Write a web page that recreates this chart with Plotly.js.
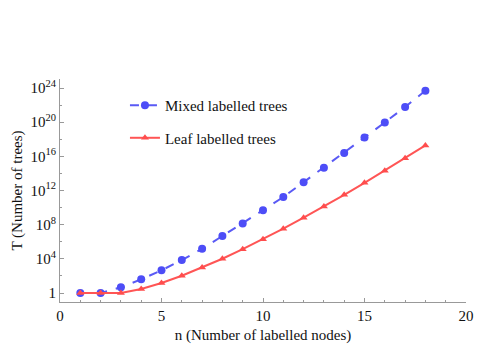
<!DOCTYPE html>
<html><head><meta charset="utf-8">
<script src="https://cdn.plot.ly/plotly-3.0.1.min.js"></script>
<style>html,body{margin:0;padding:0;background:#fff}#c{width:491px;height:351px}</style>
</head><body><div id="c"></div>
<script>
const nodes = [1,2,3,4,5,6,7,8,9,10,11,12,13,14,15,16,17,18];
const mixedTrees = [1,1,4.7,40,457,7244,1.48e5,4.7e6,1.35e8,5.0e9,1.74e11,9.1e12,4.7e14,2.45e16,1.6e18,9.5e19,6.0e21,4.9e23];
const leafTrees = [1,1,1,3,15,105,945,10395,135135,2027025,34459425,654729075,13749310575,316234143225,7905853580625,213458046676875,6190283353629375,191898783962510625];
const yTickVals = [1,1e4,1e8,1e12,1e16,1e20,1e24];
const yTickText = ['1','10<sup>4</sup>','10<sup>8</sup>','10<sup>12</sup>','10<sup>16</sup>','10<sup>20</sup>','10<sup>24</sup>'];
const yMinorVals = [1e2,1e6,1e10,1e14,1e18,1e22];
const xTickVals = [0,5,10,15,20];
const xMinorVals = [1,2,3,4,6,7,8,9,11,12,13,14,16,17,18,19];

const font = {family:'Liberation Serif, DejaVu Serif, serif', size:15, color:'#111'};
const traces = [
  {x:nodes, y:mixedTrees, name:'Mixed labelled trees', mode:'lines+markers', legendgroup:'a',
   line:{color:'#5a5af5', width:2, dash:'dash'}, marker:{color:'#4d4df7', size:8, symbol:'circle'}},
  {x:nodes, y:leafTrees, name:'Leaf labelled trees', mode:'lines+markers', legendgroup:'b',
   line:{color:'#ff5555', width:2}, marker:{color:'#ff4d4d', size:7, symbol:'triangle-up'}}
];
const layout = {
  width:491, height:351, margin:{l:60, r:25, t:79, b:49},
  paper_bgcolor:'#fff', plot_bgcolor:'#fff', font:font, showlegend:true,
  legend:{x:0.16, y:0.955, xanchor:'left', yanchor:'top', bgcolor:'rgba(0,0,0,0)', tracegroupgap:10, font:font},
  xaxis:{range:[0,20], showgrid:false, zeroline:false, showline:true, linecolor:'#999', linewidth:1,
    tickmode:'array', tickvals:xTickVals, ticks:'inside', ticklen:4, tickcolor:'#999',
    minor:{tickmode:'array', tickvals:xMinorVals, ticks:'inside', ticklen:2, tickcolor:'#999'},
    title:{text:'n (Number of labelled nodes)', font:font, standoff:6}, tickfont:font},
  yaxis:{type:'log', range:[-1.05,25.06], showgrid:false, zeroline:false, showline:true, linecolor:'#999', linewidth:1,
    tickmode:'array', tickvals:yTickVals, ticktext:yTickText, ticks:'inside', ticklen:4, tickcolor:'#999',
    minor:{tickmode:'array', tickvals:yMinorVals, ticks:'inside', ticklen:2, tickcolor:'#999'},
    title:{text:'T (Number of trees)', font:font, standoff:4}, tickfont:font}
};
Plotly.newPlot('c', traces, layout, {displayModeBar:false, staticPlot:true});
</script></body></html>
